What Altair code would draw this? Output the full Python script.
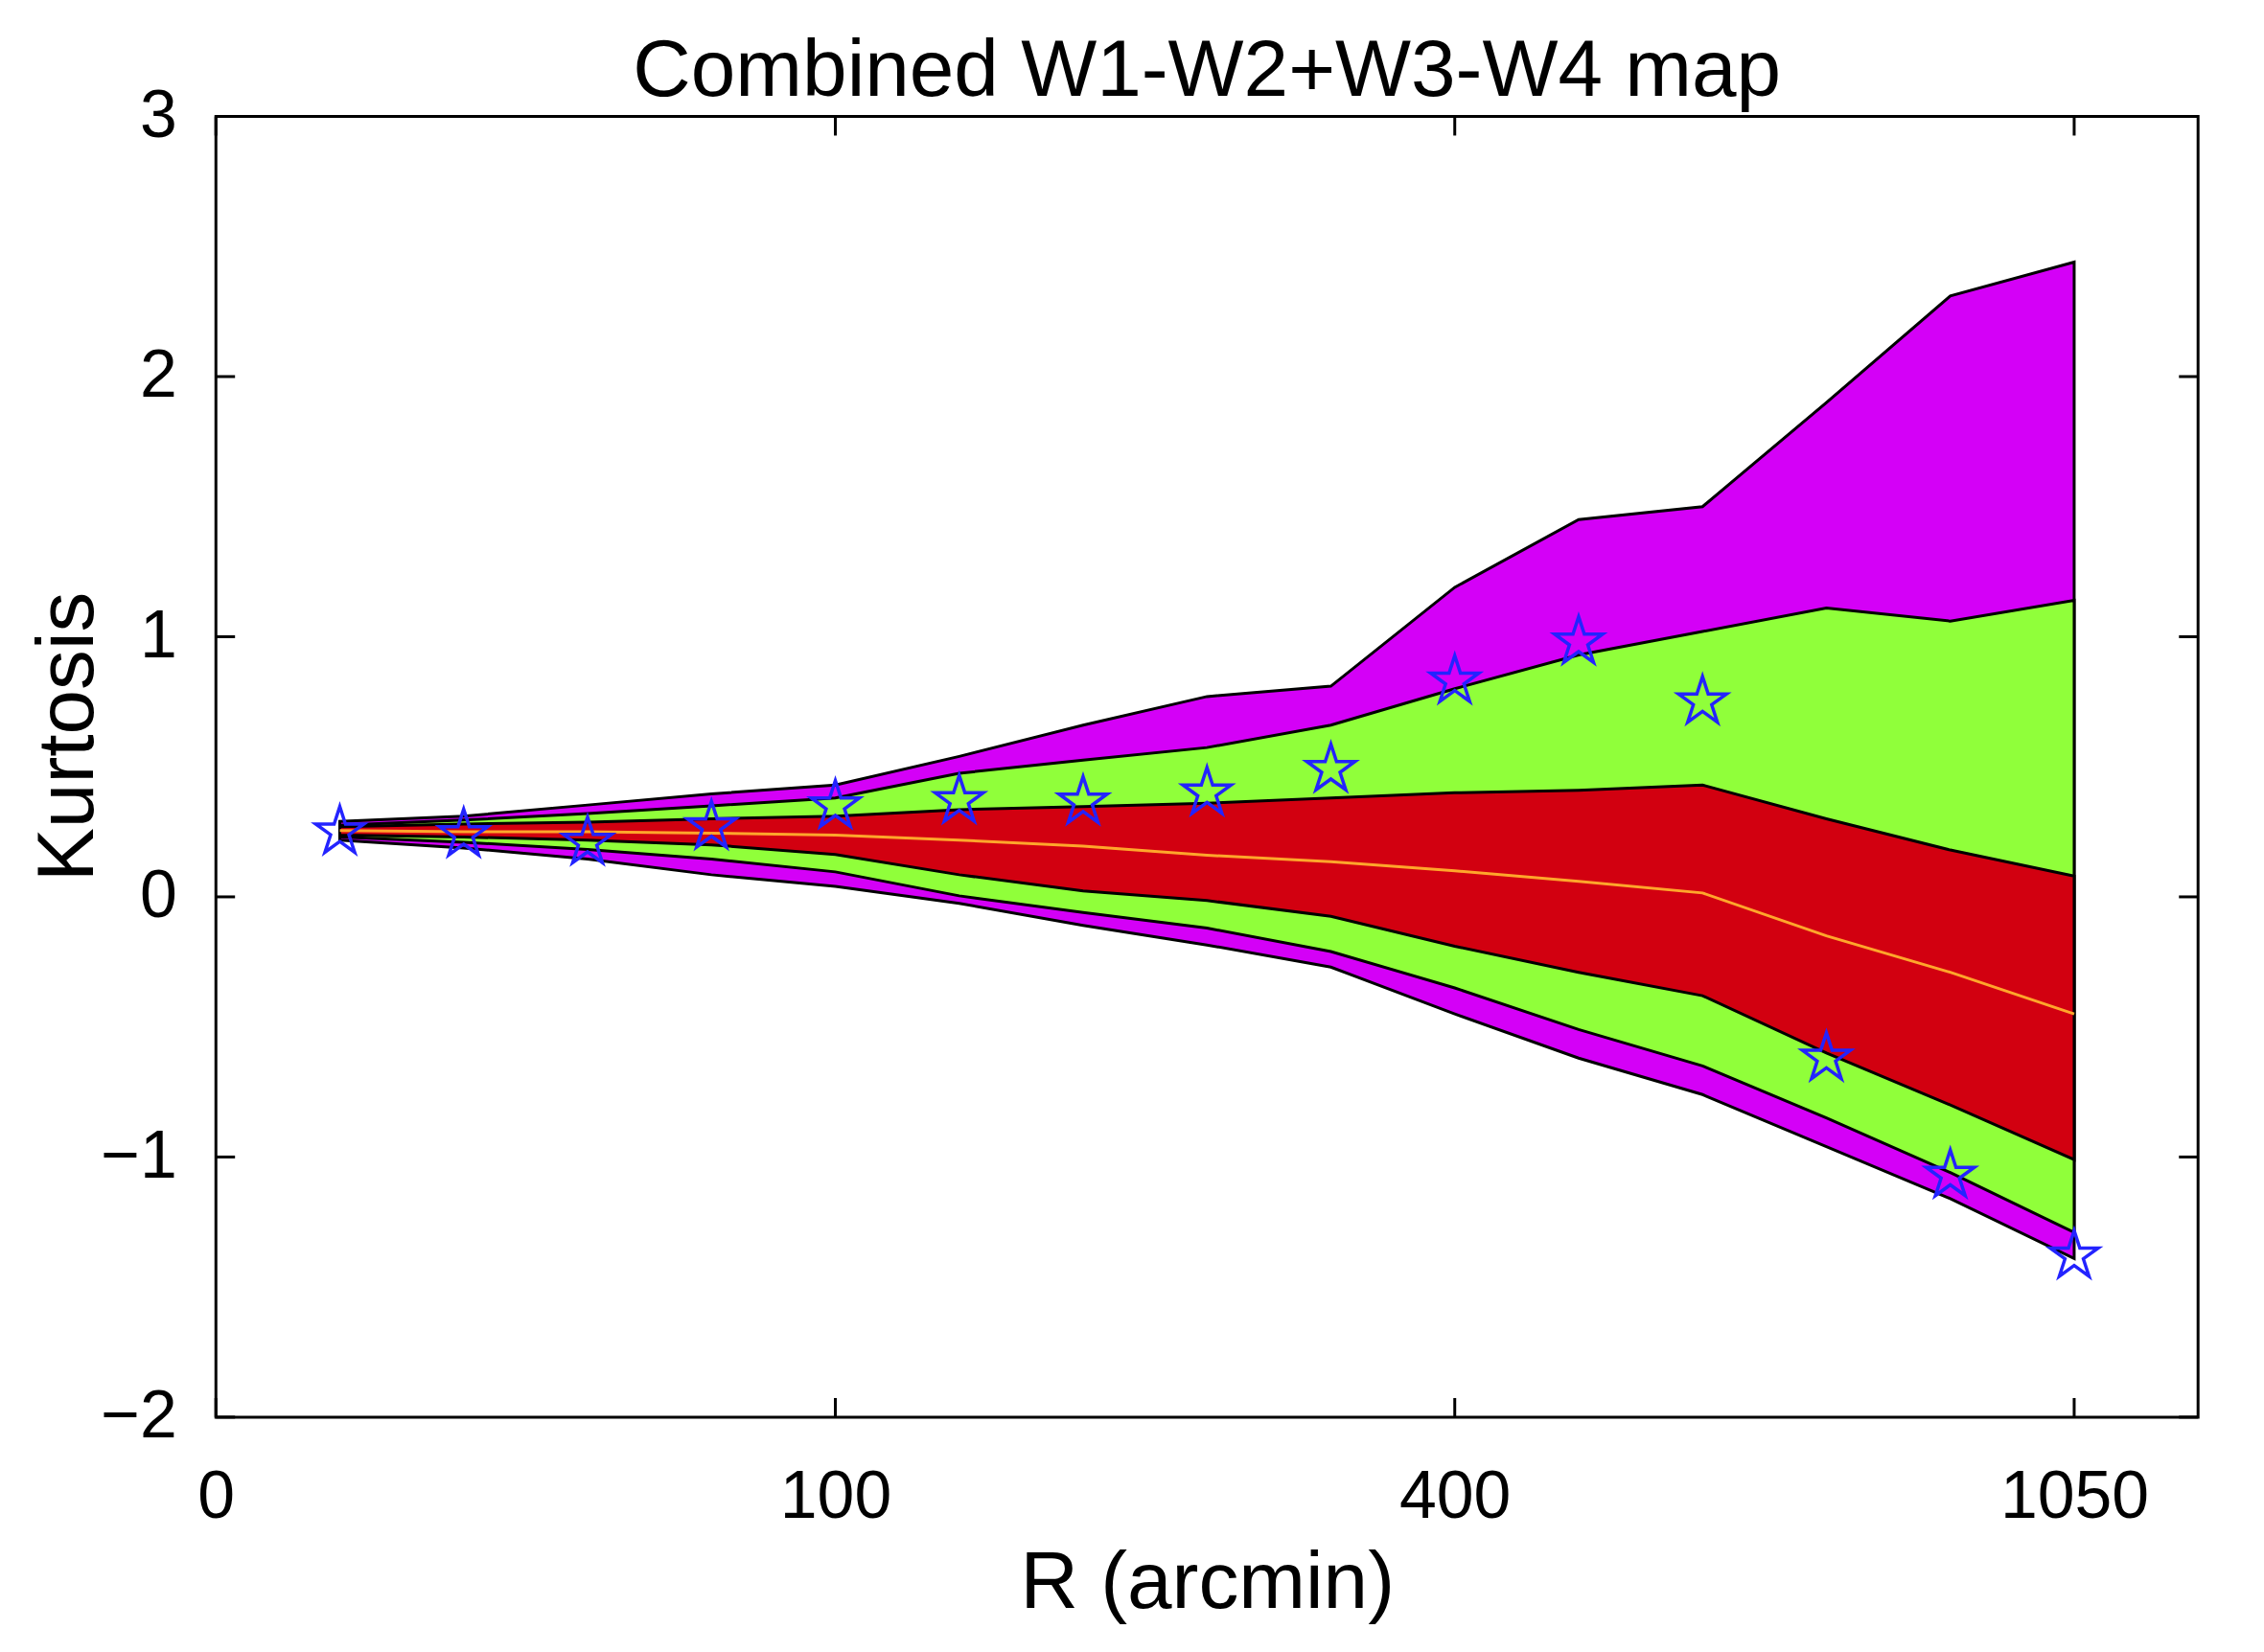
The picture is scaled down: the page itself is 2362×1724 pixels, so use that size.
import altair as alt
import pandas as pd

# ---- data ----
title_text = "Combined W1-W2+W3-W4 map"
x_idx = list(range(1, 16))
stars = [0.25, 0.24, 0.21, 0.27, 0.35, 0.37, 0.365, 0.40, 0.49, 0.83, 0.98, 0.75, -0.62, -1.07, -1.38]
median = [0.255, 0.25, 0.25, 0.245, 0.237, 0.218, 0.195, 0.16, 0.135, 0.10, 0.06, 0.015, -0.15, -0.29, -0.45]
s1_hi = [0.27, 0.28, 0.287, 0.30, 0.31, 0.335, 0.347, 0.36, 0.38, 0.40, 0.41, 0.43, 0.30, 0.18, 0.08]
s1_lo = [0.237, 0.23, 0.218, 0.20, 0.163, 0.085, 0.023, -0.014, -0.075, -0.19, -0.29, -0.38, -0.60, -0.80, -1.01]
s2_hi = [0.275, 0.295, 0.32, 0.35, 0.38, 0.475, 0.526, 0.574, 0.66, 0.80, 0.93, 1.02, 1.11, 1.06, 1.14]
s2_lo = [0.23, 0.21, 0.182, 0.145, 0.096, 0.004, -0.06, -0.12, -0.21, -0.35, -0.51, -0.65, -0.85, -1.06, -1.29]
s3_hi = [0.29, 0.31, 0.353, 0.396, 0.43, 0.54, 0.66, 0.77, 0.81, 1.19, 1.45, 1.50, 1.90, 2.31, 2.44]
s3_lo = [0.218, 0.188, 0.145, 0.085, 0.04, -0.025, -0.11, -0.185, -0.27, -0.45, -0.62, -0.76, -0.96, -1.16, -1.39]

x_tick_pos = [0, 5, 10, 15]
x_tick_lab = ["0", "100", "400", "1050"]
y_ticks = [-2, -1, 0, 1, 2, 3]

W, H = 2075, 1362
FONT = "Liberation Sans"

# five-pointed star outline in the unit box used by Vega custom shapes
STAR = ("M0,-1 L0.2245,-0.309 L0.951,-0.309 L0.363,0.118 L0.588,0.809 L0,0.382 "
        "L-0.588,0.809 L-0.363,0.118 L-0.951,-0.309 L-0.2245,-0.309 Z")

df = pd.DataFrame({
    "x": x_idx, "stars": stars, "median": median,
    "s1_hi": s1_hi, "s1_lo": s1_lo, "s2_hi": s2_hi, "s2_lo": s2_lo,
    "s3_hi": s3_hi, "s3_lo": s3_lo,
})
xt = pd.DataFrame({"x": x_tick_pos})
yt = pd.DataFrame({"y": y_ticks})
tt = pd.DataFrame({"t": [title_text]})

label_expr = "".join(f"datum.value == {p} ? '{l}' : " for p, l in zip(x_tick_pos, x_tick_lab)) + "''"

xscale = alt.Scale(domain=[0, 16], nice=False, zero=False)
yscale = alt.Scale(domain=[-2, 3], nice=False, zero=False)

x_axis = alt.Axis(values=x_tick_pos, labelExpr=label_expr, ticks=False, domain=False, grid=False,
                  labelPadding=50, labelFlush=False, labelOverlap=False,
                  title="R (arcmin)", titleY=199, titleBaseline="alphabetic")
y_axis = alt.Axis(values=y_ticks, ticks=False, domain=False, grid=False,
                  labelPadding=41, labelFlush=False, labelOverlap=False,
                  title="Kurtosis", titleX=-129, titleY=649, titleAngle=270,
                  titleBaseline="alphabetic", titleAlign="center")

X = alt.X("x:Q", scale=xscale, axis=x_axis)


def Y(f):
    return alt.Y(f, type="quantitative", scale=yscale, axis=y_axis)


base = alt.Chart(df)

band3 = base.mark_area(color="#D400F7", stroke="black", strokeWidth=3, opacity=1).encode(
    x=X, y=Y("s3_lo"), y2="s3_hi:Q")
band2 = base.mark_area(color="#90FF3A", stroke="black", strokeWidth=3, opacity=1).encode(
    x=X, y=Y("s2_lo"), y2="s2_hi:Q")
band1 = base.mark_area(color="#D20010", stroke="black", strokeWidth=3, opacity=1).encode(
    x=X, y=Y("s1_lo"), y2="s1_hi:Q")
med = base.mark_line(color="#FFA62B", strokeWidth=3).encode(x=X, y=Y("median"))
pts = base.mark_point(shape=STAR, filled=False, size=2800, color="#2323FF",
                      strokeWidth=3.5, opacity=1).encode(x=X, y=Y("stars"))

TL = 20
tick_bottom = alt.Chart(xt).mark_rule(color="black", strokeWidth=3).encode(
    x=X, y=alt.value(H), y2=alt.value(H - TL))
tick_top = alt.Chart(xt).mark_rule(color="black", strokeWidth=3).encode(
    x=X, y=alt.value(0), y2=alt.value(TL))
tick_left = alt.Chart(yt).mark_rule(color="black", strokeWidth=3).encode(
    y=Y("y"), x=alt.value(0), x2=alt.value(TL))
tick_right = alt.Chart(yt).mark_rule(color="black", strokeWidth=3).encode(
    y=Y("y"), x=alt.value(W), x2=alt.value(W - TL))

title_mark = alt.Chart(tt).mark_text(font=FONT, fontSize=84, align="center",
                                     baseline="alphabetic", color="black").encode(
    text="t:N", x=alt.value(W / 2), y=alt.value(-22))

chart = alt.layer(
    band3, band2, band1, med, pts, tick_bottom, tick_top, tick_left, tick_right, title_mark
).properties(
    width=W, height=H,
    background="white",
    autosize=alt.AutoSizeParams(type="none"),
    padding={"left": 218, "top": 111, "right": 61, "bottom": 235},
).configure_axis(
    labelFont=FONT, labelFontSize=70, labelColor="black",
    titleFont=FONT, titleFontSize=84, titleFontWeight="normal", titleColor="black",
).configure_view(
    stroke="black", strokeWidth=3
)

chart.save("out.html", embed_options={"renderer": "svg", "actions": False})
